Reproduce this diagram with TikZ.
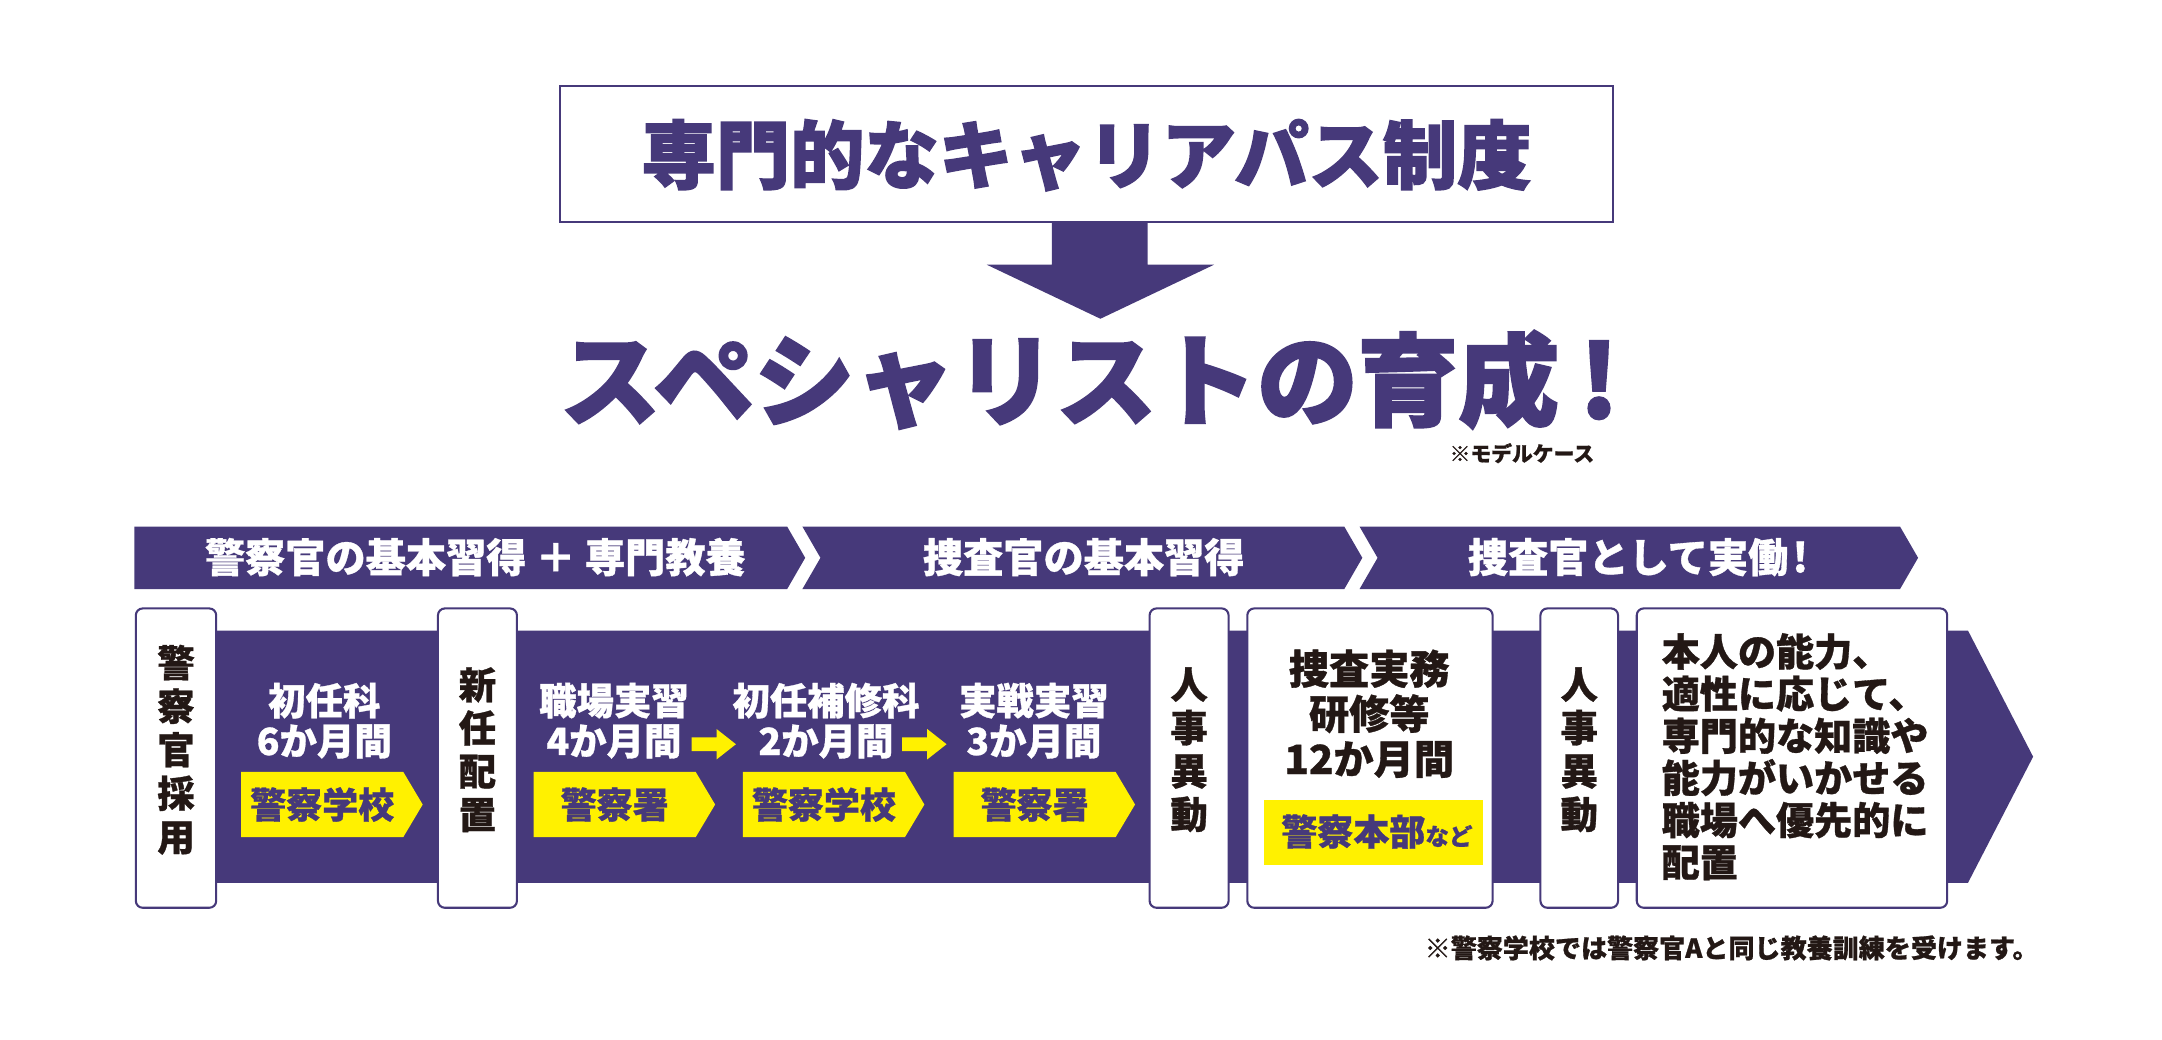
\documentclass[tikz,border=0pt]{standalone}
\usepackage{fontspec}
\newfontfamily\jp{Noto Sans CJK JP}[BoldFeatures={FakeBold=0.8}]
\newfontfamily\jph{Noto Sans CJK JP}[BoldFeatures={FakeBold=2}]
\definecolor{pur}{HTML}{46397A}
\definecolor{yel}{HTML}{FFF100}
\definecolor{ink}{HTML}{231815}
\tikzset{
  every node/.style={inner sep=0pt, outer sep=0pt},
  purfill/.style={fill=pur, draw=none},
  yelfill/.style={fill=yel, draw=none},
  vbox/.style={draw=pur, line width=0.75pt, fill=white, rounded corners=2.5pt, minimum height=108pt},
  bandtxt/.style={text=white, align=center, font=\jp\bfseries\fontsize{13.5}{14.5}\selectfont},
  boxtxt/.style={text=ink, align=center, font=\jp\bfseries\fontsize{13.5}{15.6}\selectfont},
  yeltxt/.style={text=pur, font=\jp\bfseries\fontsize{13}{13}\selectfont},
  bantxt/.style={text=white, font=\jp\bfseries\fontsize{14.5}{14.5}\selectfont},
}
\begin{document}
\begin{tikzpicture}[x=0.5pt,y=-0.5pt]
\useasboundingbox (0,0) rectangle (1560,750);
\fill[white] (0,0) rectangle (1560,750);

% title box
\node[draw=pur, line width=0.75pt, fill=white, minimum width=380pt, minimum height=49pt] (title) at (784,111) {};
\node[text=pur, font=\jph\bfseries\fontsize{26.8}{26.8}\selectfont] (titletxt) at (784,112) {専門的なキャリアパス制度};

% down block arrow
\fill[purfill] (759,160) -- (828,160) -- (828,191) -- (876,191) -- (794,230) -- (712,191) -- (759,191) -- cycle;

% headline
\node[anchor=west, text=pur, font=\jph\bfseries\fontsize{36.3}{36.3}\selectfont] (headline) at (404,274) {スペシャリストの育成\kern0.2em!};
\node[anchor=west, text=ink, font=\jp\bfseries\fontsize{7.5}{7.5}\selectfont] (model) at (1046,327) {※モデルケース};

% phase banner
\fill[purfill] (97,380) -- (568,380) -- (581,402.5) -- (568,425) -- (97,425) -- cycle;
\fill[purfill] (579,380) -- (970,380) -- (983,402.5) -- (970,425) -- (579,425) -- (592,402.5) -- cycle;
\fill[purfill] (981,380) -- (1371,380) -- (1384,402.5) -- (1371,425) -- (981,425) -- (994,402.5) -- cycle;
\node[bantxt] (ph1) at (343,402) {警察官の基本習得 ＋ 専門教養};
\node[bantxt] (ph2) at (782,402) {捜査官の基本習得};
\node[bantxt] (ph3) at (1182,402) {捜査官として実働\kern0.1em!};

% main band
\fill[purfill] (127,455) -- (1420,455) -- (1467,546) -- (1420,637) -- (127,637) -- cycle;

% white vertical boxes
\node[vbox, minimum width=29pt] (b1) at (127,547) {};
\node[vbox, minimum width=28.5pt] (b2) at (344.5,547) {};
\node[vbox, minimum width=28.5pt] (b3) at (858,547) {};
\node[vbox, minimum width=88.5pt] (b4) at (988.5,547) {};
\node[vbox, minimum width=28pt] (b5) at (1139.5,547) {};
\node[vbox, minimum width=112pt] (b6) at (1293,547) {};

\node[boxtxt, font=\jp\bfseries\fontsize{13.5}{15.7}\selectfont] (t1) at (127,541) {警\\察\\官\\採\\用};
\node[boxtxt] (t2) at (344.5,541) {新\\任\\配\\置};
\node[boxtxt] (t3) at (858,541) {人\\事\\異\\動};
\node[boxtxt] (t5) at (1139.5,541) {人\\事\\異\\動};
\node[boxtxt, font=\jp\bfseries\fontsize{14.5}{16.25}\selectfont] (t4) at (988,515) {捜査実務\\研修等\\12か月間};
\node[boxtxt, align=left, anchor=west, font=\jp\bfseries\fontsize{13.75}{15.2}\selectfont] (t6) at (1199,546) {本人の能力、\\適性に応じて、\\専門的な知識や\\能力がいかせる\\職場へ優先的に\\配置};

% yellow place tag in box 4
\fill[yelfill] (912,577) rectangle (1070,624);
\node[yeltxt] (hq) at (993.5,600) {警察本部{\fontsize{8.5}{8.5}\selectfont など}};

% band texts
\node[bandtxt] (s1) at (234,520) {初任科\\6か月間};
\node[bandtxt] (s2) at (443,520) {職場実習\\4か月間};
\node[bandtxt] (s3) at (596,520) {初任補修科\\2か月間};
\node[bandtxt] (s4) at (746,520) {実戦実習\\3か月間};

% yellow chevrons
\foreach \x/\lab/\nm in {174/警察学校/y1, 385/警察署/y2, 536/警察学校/y3, 688/警察署/y4}{
  \fill[yelfill] (\x,557) -- (\x+117,557) -- (\x+131,580.5) -- (\x+117,604) -- (\x,604) -- cycle;
  \node[yeltxt] (\nm) at (\x+58.5,580.5) {\lab};
}

% small yellow arrows
\fill[yelfill] (499,532) -- (517,532) -- (517,526) -- (531,537) -- (517,548) -- (517,542) -- (499,542) -- cycle;
\fill[yelfill] (651,532) -- (669,532) -- (669,526) -- (683,537) -- (669,548) -- (669,542) -- (651,542) -- cycle;

% footnote
\node[anchor=west, text=ink, font=\jp\bfseries\fontsize{9.4}{9.4}\selectfont] (foot) at (1028,684) {※警察学校では警察官Aと同じ教養訓練を受けます。};
\end{tikzpicture}
\end{document}
